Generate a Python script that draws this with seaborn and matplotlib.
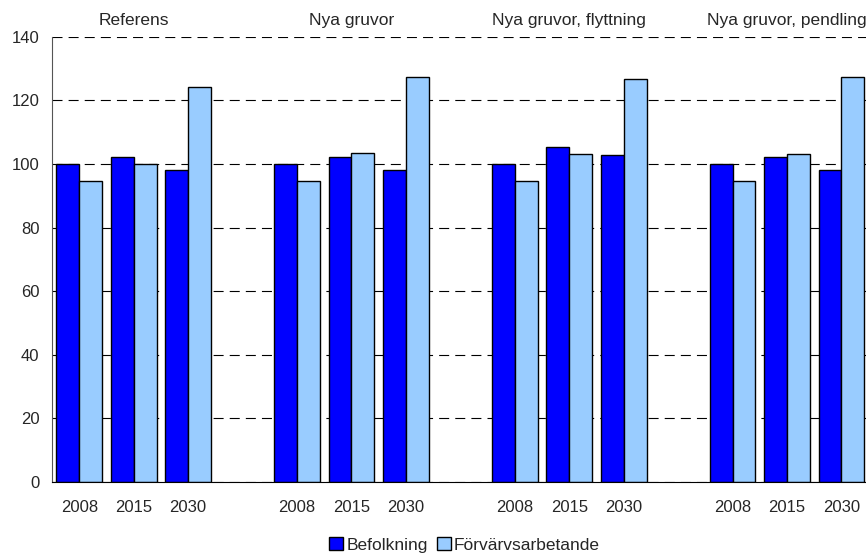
import pandas as pd
import matplotlib.pyplot as plt
import seaborn as sns

# Values (index, 2008-level = 100)
scenarios = ["Referens", "Nya gruvor", "Nya gruvor, flyttning", "Nya gruvor, pendling"]
years = ["2008", "2015", "2030"]
befolkning = [100, 102.1, 98.2, 100, 102.1, 98.2, 100, 105.3, 102.7, 100, 102.1, 98.2]
forvarv = [94.5, 100, 124.2, 94.5, 103.4, 127.4, 94.5, 103.1, 126.7, 94.5, 103.1, 127.4]
series = ["Befolkning", "Förvärvsarbetande"]
colors = ["#0000FF", "#99CCFF"]

# Long table for seaborn
rows = []
i = 0
for sc in scenarios:
    for yr in years:
        rows.append({"slot": sc + "|" + yr, "serie": series[0], "varde": befolkning[i]})
        rows.append({"slot": sc + "|" + yr, "serie": series[1], "varde": forvarv[i]})
        i += 1
df = pd.DataFrame(rows)

# Category order with an empty slot between each scenario
order = []
labels = []
for k, sc in enumerate(scenarios):
    for yr in years:
        order.append(sc + "|" + yr)
        labels.append(yr)
    if k < len(scenarios) - 1:
        order.append("gap" + str(k))
        labels.append("")

sns.set_style("white")
plt.rcParams["font.family"] = ["Liberation Sans", "DejaVu Sans"]
fs = 12.5

fig = plt.figure(figsize=(8.66, 5.56), dpi=100)
# the original plot area runs slightly past the right edge of the image
ax = fig.add_axes([52 / 866, 1 - 482 / 556, 816.7 / 866, 445.3 / 556])

sns.barplot(data=df, x="slot", y="varde", hue="serie", order=order, hue_order=series,
            palette=colors, edgecolor="black", linewidth=1, width=0.84, saturation=1,
            ax=ax, legend=True)

ax.set_xlim(-0.5, len(order) - 0.5)
ax.set_ylim(0, 140)
ax.set_yticks(range(0, 141, 20))
ax.set_xticks(range(len(order)))
ax.set_xticklabels(labels, fontsize=fs - 0.5)
ax.set_xticks([x - 0.5 for x in range(len(order) + 1)], minor=True)
ax.tick_params(axis="x", which="major", length=0, pad=13)
ax.tick_params(axis="x", which="minor", length=4, width=0.8, color="black", direction="out")
ax.tick_params(axis="y", length=4, width=0.8, color="black", direction="out", labelsize=fs - 0.5, pad=5)
ax.set_xlabel("")
ax.set_ylabel("")

ax.yaxis.grid(True, color="black", linestyle=(0, (9, 5.5)), linewidth=0.8)
ax.set_axisbelow(True)
for s in ["top", "right"]:
    ax.spines[s].set_visible(False)
ax.spines["left"].set_color("#555555")
ax.spines["bottom"].set_color("black")

# Scenario titles above each group
for k, sc in enumerate(scenarios):
    ax.text(k * 4 + 1, 1 + (482 - 20.7) / 445.3 - 1, sc, transform=ax.get_xaxis_transform(),
            ha="center", va="center", fontsize=fs)

handles, lbls = ax.get_legend_handles_labels()
ax.get_legend().remove()
fig.legend(handles, lbls, loc="center", bbox_to_anchor=(0.5366, 1 - 545 / 556), ncol=2, frameon=False,
           fontsize=fs, handlelength=0.8, handleheight=0.8, handletextpad=0.2, columnspacing=0.5)

plt.savefig("out.png", dpi=100)
